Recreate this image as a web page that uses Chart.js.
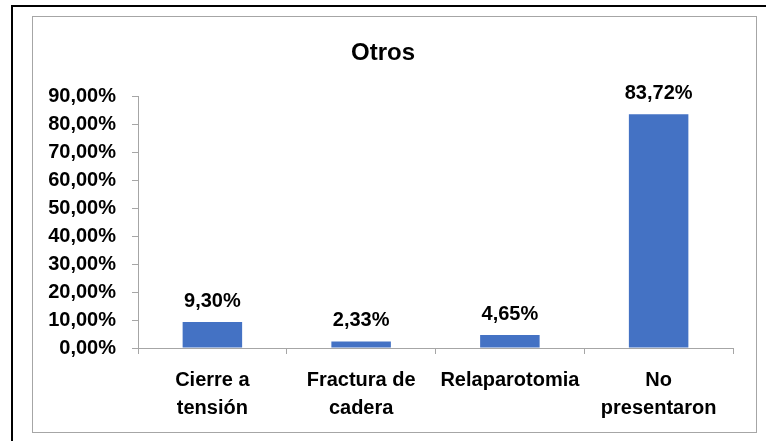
<!DOCTYPE html>
<html>
<head>
<meta charset="utf-8">
<script src="https://cdn.jsdelivr.net/npm/chart.js@4/dist/chart.umd.min.js"></script>
<style>
  body { margin: 0; background: #fff; width: 766px; height: 441px; overflow: hidden; position: relative; }
  .outer { position: absolute; left: 11px; top: 5px; width: 800px; height: 500px; border-left: 2px solid #000; border-top: 2px solid #000; }
  .box { position: absolute; left: 32px; top: 16px; width: 723px; height: 415px; border: 1px solid #a6a6a6; }
  .box canvas { position: absolute; left: 0; top: 0; }
</style>
</head>
<body>
<div class="outer"></div>
<div class="box"><canvas id="chart" width="723" height="415"></canvas></div>
<script>
        const categories = [['Cierre a', 'tensión'], ['Fractura de', 'cadera'], ['Relaparotomia'], ['No', 'presentaron']];
        const values = [9.30, 2.33, 4.65, 83.72];
        const chartTitle = 'Otros';

        const fmt = v => v.toFixed(2).replace('.', ',') + '%';

        Chart.defaults.font.family = '"Liberation Sans", Arial, sans-serif';
        Chart.defaults.font.weight = 'bold';
        Chart.defaults.font.size = 20;
        Chart.defaults.color = '#000';

        // numbers over the bars
        const barLabels = {
            id: 'barLabels',
            afterDatasetsDraw(chart) {
                const ctx = chart.ctx;
                const meta = chart.getDatasetMeta(0);
                ctx.save();
                ctx.font = 'bold 20px "Liberation Sans", Arial, sans-serif';
                ctx.fillStyle = '#000';
                ctx.textAlign = 'center';
                ctx.textBaseline = 'alphabetic';
                meta.data.forEach((bar, i) => {
                    ctx.fillText(fmt(values[i]), bar.x, bar.y - 15);
                });
                ctx.restore();
            }
        };

        const ctx = document.getElementById('chart').getContext('2d');
        new Chart(ctx, {
            type: 'bar',
            data: {
                labels: categories,
                datasets: [{
                    data: values,
                    backgroundColor: '#4472C4',
                    categoryPercentage: 1,
                    barPercentage: 0.4
                }]
            },
            options: {
                responsive: false,
                animation: false,
                layout: { padding: { left: 0, right: 23, top: 0, bottom: 0 } },
                plugins: {
                    legend: { display: false },
                    tooltip: { enabled: false },
                    title: {
                        display: true,
                        text: chartTitle,
                        font: { size: 24, weight: 'bold' },
                        color: '#000',
                        padding: { top: 22, bottom: 29 }
                    }
                },
                scales: {
                    x: {
                        grid: { offset: true, drawOnChartArea: false, drawTicks: true, tickLength: 6, color: '#a6a6a6' },
                        border: { color: '#a6a6a6', width: 1 },
                        ticks: { padding: 12, maxRotation: 0, autoSkip: false, font: { size: 20, weight: 'bold', lineHeight: 1.4 } },
                        afterFit(scale) { scale.height = 84; }
                    },
                    y: {
                        min: 0,
                        max: 90,
                        grid: { drawOnChartArea: false, drawTicks: true, tickLength: 6, color: '#a6a6a6' },
                        border: { color: '#a6a6a6', width: 1 },
                        ticks: { stepSize: 10, padding: 16, callback: v => fmt(v) },
                        afterFit(scale) { scale.width = 105; }
                    }
                }
            },
            plugins: [barLabels]
        });
</script>
</body>
</html>
